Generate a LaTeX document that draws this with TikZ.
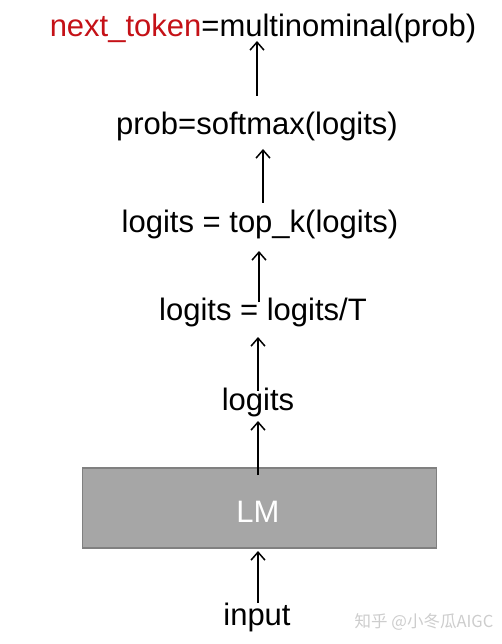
\documentclass[tikz,border=0pt]{standalone}
\usepackage{fontspec}
\usetikzlibrary{arrows.meta}
\setmainfont{Liberation Sans}
\newfontfamily\cjkwm{Noto Sans CJK SC}
\definecolor{tokred}{RGB}{197,17,23}
\definecolor{lmfill}{RGB}{166,166,166}
\definecolor{lmdraw}{RGB}{128,128,128}
\definecolor{wmgray}{RGB}{205,205,205}
\begin{document}
\begin{tikzpicture}[x=1pt,y=-1pt,
  lbl/.style={anchor=base,inner sep=0pt,font=\fontsize{31}{36}\selectfont},
  flow/.style={-{Straight Barb[length=8pt,width=14pt]},line width=1.5pt},
  lmbox/.style={draw=lmdraw,fill=lmfill,line width=1.2pt,minimum width=354pt,minimum height=80pt,inner sep=0pt}]
\useasboundingbox (0,0) rectangle (502,644);
\fill[white] (0,0) rectangle (502,644);
\node[lmbox] (lm) at (259.5,508) {};
\node[lbl,text=white] (lmt) at (258,522) {LM};
\node[lbl] (inp) at (257,625) {input};
\node[lbl] (lg) at (258,410) {logits};
\node[lbl] (lgT) at (263,320) {logits = logits/T};
\node[lbl] (topk) at (260,232) {logits = top\_k(logits)};
\node[lbl] (prob) at (257,135) {prob=softmax(logits)};
\node[lbl] (nt) at (263,37) {\textcolor{tokred}{next\_token}=multinominal(prob)};
\node[anchor=center,inner sep=0pt,text=wmgray,font=\cjkwm\fontsize{16.5}{18}\selectfont] (wm) at (424,622) {知乎 @小冬瓜AIGC};
\coordinate (a0s) at (258,603);
\coordinate (a0e) at (258,551);
\coordinate (a1s) at (258,475);
\coordinate (a1e) at (258,421);
\coordinate (a2s) at (258,391);
\coordinate (a2e) at (258,337);
\coordinate (a3s) at (259,302);
\coordinate (a3e) at (259,251);
\coordinate (a4s) at (263,203);
\coordinate (a4e) at (263,149);
\coordinate (a5s) at (257,96);
\coordinate (a5e) at (257,41);
\draw[flow] (a0s) -- (a0e);
\draw[flow] (a1s) -- (a1e);
\draw[flow] (a2s) -- (a2e);
\draw[flow] (a3s) -- (a3e);
\draw[flow] (a4s) -- (a4e);
\draw[flow] (a5s) -- (a5e);
\end{tikzpicture}
\end{document}
